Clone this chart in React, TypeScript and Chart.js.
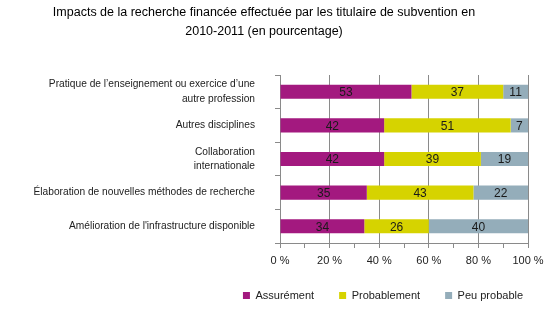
import React, { useEffect, useRef } from "react";
import { Chart, registerables } from "chart.js";

Chart.register(...registerables);

const titleLines = [
  "Impacts de la recherche financée effectuée par les titulaire de subvention en",
  "2010-2011 (en pourcentage)",
];

const categories: (string | string[])[] = [
  ["Pratique de l\u2019enseignement ou exercice d\u2019une", "autre profession"],
  "Autres disciplines",
  ["Collaboration", "internationale"],
  "Élaboration de nouvelles méthodes de recherche",
  "Amélioration de l'infrastructure disponible",
];

const seriesNames = ["Assurément", "Probablement", "Peu probable"];
const assurement = [53, 42, 42, 35, 34];
const probablement = [37, 51, 39, 43, 26];
const peuProbable = [11, 7, 19, 22, 40];
const seriesColors = ["#A3197F", "#D6D300", "#94ADBA"];

const xTicks = [0, 20, 40, 60, 80, 100];

const dataLabels = {
  id: "dataLabels",
  afterDatasetsDraw(chart: any) {
    const ctx = chart.ctx;
    ctx.save();
    ctx.font = "12px 'Liberation Sans'";
    ctx.fillStyle = "#1a1a1a";
    ctx.textAlign = "center";
    ctx.textBaseline = "middle";
    chart.data.datasets.forEach((ds: any, i: number) => {
      const meta = chart.getDatasetMeta(i);
      meta.data.forEach((el: any, j: number) => {
        const right = Math.min(el.x, chart.chartArea.right);
        const cx = (el.base + right) / 2;
        ctx.fillText(String(ds.data[j]), cx, el.y + 1);
      });
    });
    ctx.restore();
  },
};

const LEGEND_SHIFT = 119;
const legendShift = {
  id: "legendShift",
  afterLayout(chart: any) {
    if (chart.legend) {
      chart.legend.left += LEGEND_SHIFT;
      chart.legend.right += LEGEND_SHIFT;
    }
  },
};

export default function App() {
  const ref = useRef<HTMLCanvasElement>(null);
  useEffect(() => {
    const chart = new Chart(ref.current!, {
      type: "bar",
      data: {
        labels: categories,
        datasets: [assurement, probablement, peuProbable].map((d, i) => ({
          label: seriesNames[i],
          data: d,
          backgroundColor: seriesColors[i],
          borderWidth: 0,
          barPercentage: 0.42,
          categoryPercentage: 1,
        })),
      },
      options: {
        indexAxis: "y",
        animation: false,
        responsive: false,
        maintainAspectRatio: false,
        layout: { padding: { top: 3, right: 26, bottom: 21, left: 0 } },
        plugins: {
          title: {
            display: true,
            text: titleLines,
            font: { family: "'Liberation Sans'", size: 12.5, weight: "normal", lineHeight: 1.52 },
            color: "#000",
            padding: { top: 0, bottom: 34 },
          },
          legend: {
            position: "bottom",
            labels: {
              boxWidth: 7,
              boxHeight: 7,
              padding: 25,
              color: "#222",
              font: { family: "'Liberation Sans'", size: 11 },
            },
          },
          tooltip: { enabled: false },
        },
        scales: {
          x: {
            stacked: true,
            min: 0,
            max: 100,
            ticks: {
              stepSize: 10,
              autoSkip: false,
              maxRotation: 0,
              padding: 6,
              color: "#222",
              font: { family: "'Liberation Sans'", size: 11 },
              callback: (v: any) => (xTicks.includes(Number(v)) ? v + " %" : ""),
            },
            grid: {
              color: (c: any) => (c.tick && Number(c.tick.value) % 20 === 0 ? "#8a8a8a" : "rgba(0,0,0,0)"),
              tickColor: "#8a8a8a",
              tickLength: 5,
              lineWidth: 1,
            },
            border: { display: true, color: "#8a8a8a" },
            afterFit: (s: any) => {
              s.height = 22;
            },
          },
          y: {
            stacked: true,
            ticks: {
              padding: 20,
              color: "#222",
              font: { family: "'Liberation Sans'", size: 10.2, lineHeight: 1.4 },
            },
            grid: {
              offset: true,
              drawOnChartArea: false,
              tickColor: "#8a8a8a",
              tickLength: 5,
            },
            border: { display: true, color: "#8a8a8a" },
            afterFit: (s: any) => {
              s.width = 280;
            },
          },
        },
      },
      plugins: [dataLabels, legendShift],
    });
    return () => chart.destroy();
  }, []);
  return (
    <div style={{ position: "fixed", left: 0, top: 0, width: 554, height: 332, background: "#fff" }}>
      <canvas ref={ref} width={554} height={332} />
    </div>
  );
}
